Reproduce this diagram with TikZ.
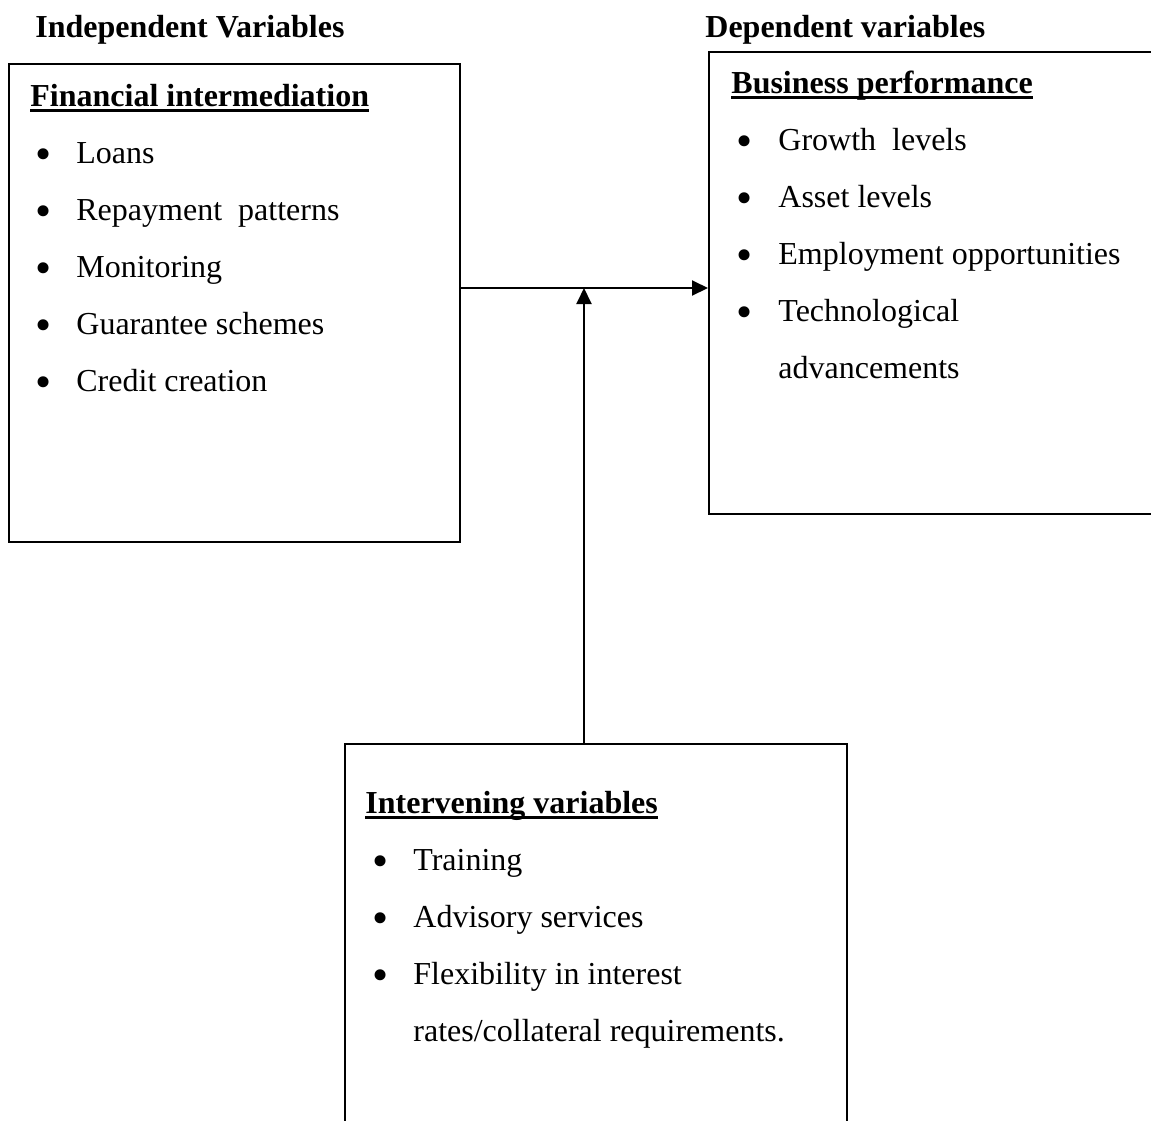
\documentclass[tikz,border=0pt]{standalone}
\usepackage{fontspec}
\setmainfont{Liberation Serif}
\usetikzlibrary{arrows.meta}
\newcommand{\uhead}[1]{\setbox0\hbox{\bfseries #1}\rlap{\rule[-3pt]{\wd0}{1.5pt}}\box0}

\begin{document}
\begin{tikzpicture}[x=0.5pt,y=-0.5pt,
        every node/.style={font=\fontsize{16}{19}\selectfont, inner sep=0pt},
        box/.style={draw, line width=1pt, anchor=north west},
        txt/.style={anchor=base west},
        dot/.style={anchor=base, font=\fontsize{23}{24}\selectfont, yshift=-3pt},
        link/.style={line width=1pt, -{Triangle[length=8pt,width=7.5pt]}}]
        \clip (0,0) rectangle (1151,1120);

        % headings above the boxes
        \node[txt] (indep) at (35,37) {\textbf{Independent Variables}};
        \node[txt] (dep) at (705,37) {\textbf{Dependent variables}};

        % boxes
        \node[box, minimum width=225.5pt, minimum height=239pt] (fin) at (8,63) {};
        \node[box, minimum width=226pt, minimum height=231pt] (perf) at (708,51) {};
        \node[box, minimum width=251pt, minimum height=194pt] (inter) at (344,743) {};

        % financial intermediation
        \node[txt] (fint) at (30,106) {\uhead{Financial intermediation}};
        \foreach \t [count=\i] in {Loans, Repayment\ \ patterns, Monitoring, Guarantee schemes, Credit creation} {
                \node[dot] (finb\i) at (44,106+57*\i) {\textbullet};
                \node[txt] (fini\i) at (76,106+57*\i) {\t};
        }

        % business performance
        \node[txt] (perft) at (731,93) {\uhead{Business performance}};
        \foreach \t [count=\i] in {Growth\ \ levels, Asset levels, Employment opportunities, Technological} {
                \node[dot] (perfb\i) at (745,93+57*\i) {\textbullet};
                \node[txt] (perfi\i) at (778,93+57*\i) {\t};
        }
        \node[txt] (perfi5) at (778,378) {advancements};

        % intervening variables
        \node[txt] (intert) at (365,813) {\uhead{Intervening variables}};
        \foreach \t [count=\i] in {Training, Advisory services, Flexibility in interest} {
                \node[dot] (interb\i) at (381,813+57*\i) {\textbullet};
                \node[txt] (interi\i) at (413,813+57*\i) {\t};
        }
        \node[txt] (interi4) at (413,1041) {rates/collateral requirements.};

        % arrows
        \coordinate (junc) at (584,288);
        \draw[link] (fin.east |- junc) -- (perf.west |- junc);
        \draw[link] (inter.north -| junc) -- (junc);
\end{tikzpicture}
\end{document}
